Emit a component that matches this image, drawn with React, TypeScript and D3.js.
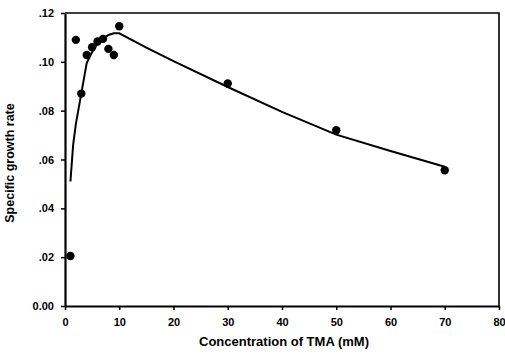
import { useEffect, useRef } from 'react';
import * as d3 from 'd3';

// Messpunkte (TMA-Konzentration in mM, spezifische Wachstumsrate)
const pointX = [1, 2, 3, 4, 5, 6, 7, 8, 9, 10, 30, 50, 70];
const pointY = [0.0205, 0.109, 0.087, 0.1028, 0.106, 0.1083, 0.1094, 0.1053, 0.1028, 0.1146, 0.0911, 0.072, 0.0556];

// Angepasste Kurve
const curveX = [1, 1.5, 2, 3, 4, 5, 6, 7, 8, 9, 10, 15, 20, 30, 40, 50, 60, 70];
const curveY = [0.051, 0.066, 0.0745, 0.087, 0.0995, 0.104, 0.1075, 0.1095, 0.111, 0.1117, 0.1117, 0.1058, 0.1003, 0.0897, 0.0795, 0.0702, 0.0635, 0.057];

const xTicks = [0, 10, 20, 30, 40, 50, 60, 70, 80];
const yTicks = [0, 0.02, 0.04, 0.06, 0.08, 0.1, 0.12];
const yTickLabels = ['0.00', '.02', '.04', '.06', '.08', '.10', '.12'];

const width = 505;
const height = 359;

const App = () => {
    const ref = useRef<SVGSVGElement>(null);

    useEffect(() => {
        const svg = d3.select(ref.current);
        svg.selectAll('*').remove();

        const left = 65, right = 499, top = 13, bottom = 306;

        const x = d3.scaleLinear().domain([0, 80]).range([left, right]);
        const y = d3.scaleLinear().domain([0, 0.12]).range([bottom, top]);

        const font = 'Liberation Sans, Arial, sans-serif';

        // Rahmen oben und rechts
        svg.append('path')
            .attr('d', `M${left},${top}H${right}V${bottom}`)
            .attr('fill', 'none')
            .attr('stroke', '#000')
            .attr('stroke-width', 1.6);

        // X-Achse
        const xAxis = svg.append('g')
            .attr('transform', `translate(0,${bottom})`)
            .call(d3.axisBottom(x).tickValues(xTicks).tickSize(4).tickSizeOuter(0).tickFormat(d3.format('d')));
        xAxis.select('.domain').attr('stroke-width', 2.2);
        xAxis.selectAll('.tick line').attr('stroke-width', 1.5);
        xAxis.selectAll('text')
            .attr('font-family', font)
            .attr('font-weight', 'bold')
            .attr('font-size', 11)
            .attr('dy', '1.15em')
            .attr('fill', '#000');

        // Y-Achse
        const yAxis = svg.append('g')
            .attr('transform', `translate(${left},0)`)
            .call(d3.axisLeft(y).tickValues(yTicks).tickSize(4).tickSizeOuter(0)
                .tickFormat((d, i) => yTickLabels[i]));
        yAxis.select('.domain').attr('stroke-width', 2.2);
        yAxis.selectAll('.tick line').attr('stroke-width', 1.5);
        yAxis.selectAll('text')
            .attr('font-family', font)
            .attr('font-weight', 'bold')
            .attr('font-size', 11)
            .attr('x', -11)
            .attr('fill', '#000');

        // Kurve
        const line = d3.line<number>()
            .x((d, i) => x(curveX[i]))
            .y(d => y(d));
        svg.append('path')
            .attr('d', line(curveY))
            .attr('fill', 'none')
            .attr('stroke', '#000')
            .attr('stroke-width', 2);

        // Punkte
        svg.selectAll('circle.pt')
            .data(pointY)
            .enter()
            .append('circle')
            .attr('class', 'pt')
            .attr('cx', (d, i) => x(pointX[i]))
            .attr('cy', d => y(d))
            .attr('r', 4.2)
            .attr('fill', '#000');

        // Achsentitel
        svg.append('text')
            .attr('x', 284)
            .attr('y', 346)
            .attr('text-anchor', 'middle')
            .attr('font-family', font)
            .attr('font-weight', 'bold')
            .attr('font-size', 13)
            .text('Concentration of TMA (mM)');

        svg.append('text')
            .attr('transform', `translate(14,163) rotate(-90)`)
            .attr('text-anchor', 'middle')
            .attr('font-family', font)
            .attr('font-weight', 'bold')
            .attr('font-size', 12.5)
            .text('Specific growth rate');
    }, []);

    return (
        <svg ref={ref} width={width} height={height}
            style={{ position: 'absolute', left: 0, top: 0, background: '#fff' }} />
    );
};

export default App;
